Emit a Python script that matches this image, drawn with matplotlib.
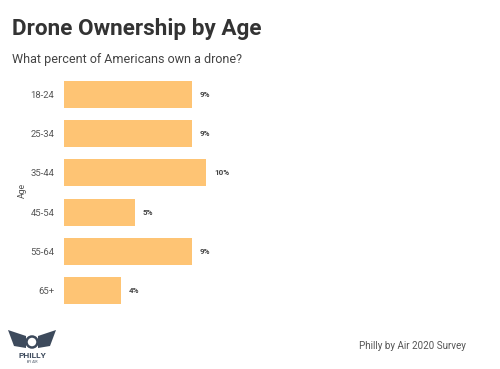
import matplotlib
matplotlib.use("Agg")
import matplotlib.pyplot as plt
from matplotlib.patches import Circle, Polygon

categories = ["18-24", "25-34", "35-44", "45-54", "55-64", "65+"]
values = [9, 9, 10, 5, 9, 4]
value_labels = ["9%", "9%", "10%", "5%", "9%", "4%"]

W, H = 500, 369
fig = plt.figure(figsize=(W / 100, H / 100), dpi=100)
fig.patch.set_facecolor("white")
plt.rcParams["font.family"] = ["Roboto", "DejaVu Sans"]

# axes in pixel coords
ax_left, ax_right = 64, 480
ax_top, ax_bottom = 75, 310
ax = fig.add_axes([ax_left / W, 1 - ax_bottom / H, (ax_right - ax_left) / W, (ax_bottom - ax_top) / H])
px_per_unit = 14.2
ax.set_xlim(0, (ax_right - ax_left) / px_per_unit)
ax.set_ylim(len(categories) - 0.5, -0.5)

y = list(range(len(categories)))
ax.barh(y, values, height=0.69, color="#FEC474")
for yi, v, lab in zip(y, values, value_labels):
    ax.annotate(lab, (v, yi), xytext=(8, 0), textcoords="offset pixels",
                va="center", ha="left", fontsize=5.8, fontweight="bold", color="#444444")

ax.set_yticks(y)
ax.set_yticklabels(categories, fontsize=6.8, color="#555555")
ax.tick_params(axis="y", length=0, pad=7)
ax.set_xticks([])
for s in ax.spines.values():
    s.set_visible(False)

fig.text(22 / W, 1 - 190 / H, "Age", rotation=90, fontsize=6.3, color="#555555", ha="center", va="center")

fig.text(12 / W, 1 - 29 / H, "Drone Ownership by Age", fontsize=16.2, fontweight="bold",
         color="#333333", ha="left", va="center")
fig.text(12 / W, 1 - 59 / H, "What percent of Americans own a drone?", fontsize=9,
         color="#444444", ha="left", va="center")
fig.text(359 / W, 1 - 346 / H, "Philly by Air 2020 Survey", fontsize=7.1,
         color="#555555", ha="left", va="center")

# simple logo
lax = fig.add_axes([0, 0, 1, 1], facecolor="none")
lax.set_xlim(0, W)
lax.set_ylim(H, 0)
lax.axis("off")
logo = "#3d4a5c"
lax.add_patch(Circle((32, 342), 5.5, facecolor="white", edgecolor=logo, lw=1.8))
lax.add_patch(Polygon([(8, 330), (26, 336), (26, 348), (14, 346)], closed=True, facecolor=logo))
lax.add_patch(Polygon([(56, 330), (38, 336), (38, 348), (50, 346)], closed=True, facecolor=logo))
lax.text(32, 355, "PHILLY", fontsize=6, fontweight="bold", color=logo, ha="center", va="center")
lax.text(32, 362, "BY AIR", fontsize=2.5, color=logo, ha="center", va="center")

fig.savefig("out.png", dpi=100)
